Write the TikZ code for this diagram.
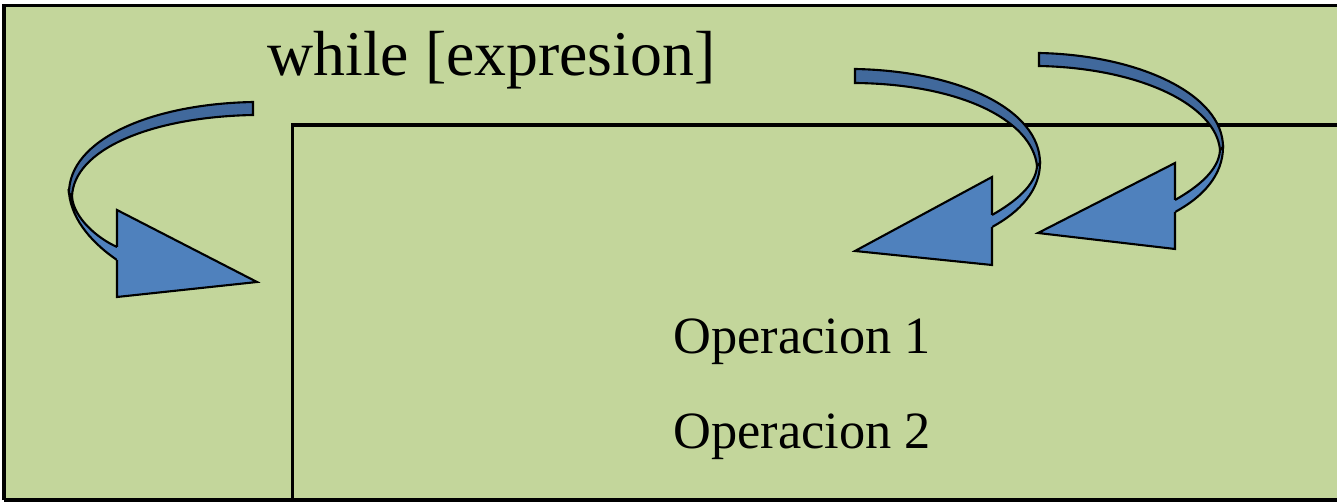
\documentclass[tikz,border=0pt]{standalone}
\usepackage{fontspec}
\setmainfont{Liberation Serif}
\definecolor{verdefondo}{HTML}{C3D69B}
\definecolor{azulflecha}{HTML}{4F81BD}
\definecolor{azuloscuro}{HTML}{41699C}
\tikzset{
  marco/.style={line width=1.9pt},
  bandaosc/.style={draw=black,line width=1.2pt,fill=azuloscuro},
  bandaclara/.style={draw=black,line width=1.2pt,fill=azulflecha},
  punta/.style={draw=black,line width=1.2pt,fill=azulflecha,line join=miter},
  texto/.style={anchor=base west,inner sep=0pt},
}
\begin{document}
\begin{tikzpicture}[x=0.02cm,y=-0.02cm]
  \useasboundingbox (0,0) rectangle (1337,502);
  \clip (0,0) rectangle (1337,502);
  %fondo
  	\fill[white] (0,0) rectangle (1337,502);
  	\fill[verdefondo] (4,5.5) rectangle (1350,500);
  %marco exterior
  	\draw[marco] (4,500) -- (4,5.5) -- (1350,5.5);
  	\draw[marco] (4,500) -- (1350,500);
  %marco interior
  	\draw[marco] (292.5,510) -- (292.5,125) -- (1350,125);

  %textos
  	\node[texto,font=\fontsize{36.3}{42}\selectfont] (cond) at (267,76) {while [expresion]};
  	\node[texto,font=\fontsize{29.8}{36}\selectfont] (op1) at (673,354) {Operacion 1};
  	\node[texto,font=\fontsize{29.8}{36}\selectfont] (op2) at (673,449) {Operacion 2};

  %flecha izquierda
	\filldraw[bandaosc] (253,102) .. controls (150,104) and (69,140) .. (69,193)
		-- (72,197) .. controls (73,150) and (150,117) .. (253,115) -- cycle;
	\filldraw[bandaclara] (117,247) .. controls (97,238) and (74,218) .. (72,197)
		-- (69,193) .. controls (72,222) and (95,245) .. (117,260);
	\filldraw[punta] (117,247) -- (117,210) -- (257,282) -- (117,297) -- (117,260);

  %flecha central
	\filldraw[bandaosc] (855,69) .. controls (960,71) and (1040,110) .. (1040,163)
		-- (1037,166) .. controls (1032,120) and (960,84) .. (855,83) -- cycle;
	\filldraw[bandaclara] (992,215) .. controls (1015,202) and (1036,185) .. (1037,166)
		-- (1040,163) .. controls (1040,190) and (1020,212) .. (992,227);
	\filldraw[punta] (992,215) -- (992,177) -- (855,251) -- (992,265) -- (992,227);

  %flecha derecha
	\filldraw[bandaosc] (1039,53) .. controls (1140,55) and (1223,95) .. (1223,147)
		-- (1220,150) .. controls (1216,105) and (1140,68) .. (1039,66) -- cycle;
	\filldraw[bandaclara] (1175,200) .. controls (1198,187) and (1219,170) .. (1220,150)
		-- (1223,147) .. controls (1223,175) and (1203,197) .. (1175,212);
	\filldraw[punta] (1175,200) -- (1175,163) -- (1038,233) -- (1175,249) -- (1175,212);
\end{tikzpicture}
\end{document}
